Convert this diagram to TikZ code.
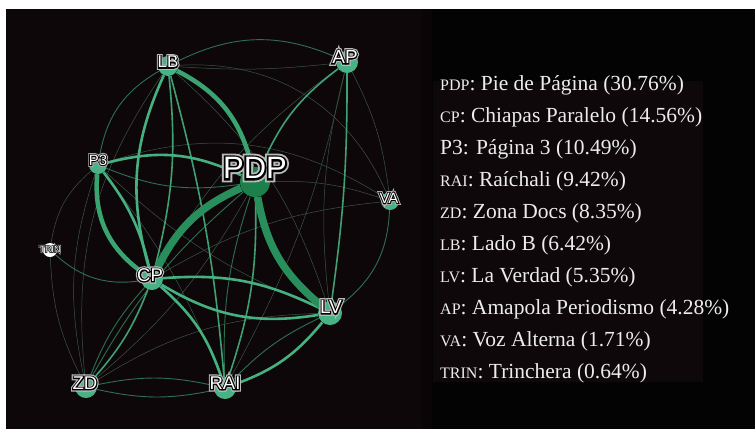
\documentclass[tikz,border=0pt]{standalone}
\usepackage{fontspec}
\newfontfamily\labelfont{Liberation Sans}
\newfontfamily\labeledge[FakeBold=12]{Liberation Sans}
\newfontfamily\labelglow[FakeBold=24]{Liberation Sans}
\newfontfamily\legendfont{Liberation Serif}
\pgfdeclarelayer{panels}
\pgfdeclarelayer{edges}
\pgfsetlayers{panels,edges,main}
\definecolor{panelbg}{RGB}{14,7,9}
\definecolor{seambg}{RGB}{9,5,6}
\definecolor{rightbg}{RGB}{3,3,3}
\definecolor{legendbg}{RGB}{15,8,11}
\definecolor{mint}{RGB}{72,178,134}
\definecolor{hubgreen}{RGB}{28,128,74}
\definecolor{legendtext}{RGB}{236,236,236}
\tikzstyle{netnode} = [circle, fill=mint, inner sep=0]
\tikzstyle{netlabel} = [inner sep=0]
\tikzstyle{legendline} = [anchor=base west, inner sep=0, text=legendtext, font=\legendfont\fontsize{21.5}{24}\selectfont]
\tikzstyle{thinE} = [draw={rgb,255:red,58;green,84;blue,72}, line width=0.5]
\tikzstyle{dimE} = [draw={rgb,255:red,44;green,112;blue,82}, line width=0.9]
\tikzstyle{midE} = [draw={rgb,255:red,62;green,160;blue,116}, line width=1.6]
\tikzstyle{strongE} = [draw={rgb,255:red,70;green,176;blue,128}, line width=2.6]
\tikzstyle{heavyE} = [draw={rgb,255:red,58;green,164;blue,112}, line width=4.5]
\tikzstyle{hugeE} = [draw={rgb,255:red,40;green,142;blue,92}, line width=7.5]
\newcommand\netlabel[4]{%
    \node[netlabel, text=gray!55, font=\labelglow\fontsize{#3}{#3}\selectfont] (#1_glow) at (#2) {#4};
    \node[netlabel, text=black, font=\labeledge\fontsize{#3}{#3}\selectfont] (#1_edge) at (#2) {#4};
    \node[netlabel, text=white, font=\labelfont\fontsize{#3}{#3}\selectfont] (#1) at (#2) {#4};}
\newcommand\abbr[1]{{\fontsize{16}{16}\selectfont #1}}

\begin{document}
\begin{tikzpicture}[x=1pt, y=-1pt]
    \useasboundingbox (0,0) rectangle (755,429);
    \begin{pgfonlayer}{panels}
    \fill[white] (0,0) rectangle (755,429);
    \fill[panelbg] (6,9) rectangle (432,429);
    \fill[seambg] (422,9) rectangle (432,429);
    \fill[rightbg] (432,9) rectangle (755,429);
    \fill[legendbg] (433,81) rectangle (703,382);
    \end{pgfonlayer}

    \node[netnode, minimum size=30, fill=hubgreen] (net_pdp) at (255,182) {};
    \node[netnode, minimum size=22] (net_cp) at (152,279) {};
    \node[netnode, minimum size=18] (net_p3) at (98,165) {};
    \node[netnode, minimum size=22] (net_rai) at (225,388) {};
    \node[netnode, minimum size=22] (net_zd) at (86,387) {};
    \node[netnode, minimum size=20] (net_lb) at (168,66) {};
    \node[netnode, minimum size=24] (net_lv) at (330,313) {};
    \node[netnode, minimum size=22] (net_ap) at (347,62) {};
    \node[netnode, minimum size=18] (net_va) at (390,201) {};
    \node[netnode, minimum size=14, fill=white] (net_trin) at (50,250) {};

    \begin{pgfonlayer}{edges}
    \draw[thinE] (net_lb) to[bend right=5] (net_ap);
    \draw[thinE] (net_trin) to[bend left=20] (net_p3);
    \draw[thinE] (net_pdp) to[bend left=10] (net_va);
    \draw[thinE] (net_p3) to[bend left=25] (net_va);
    \draw[thinE] (net_cp) to[bend left=12] (net_va);
    \draw[thinE] (net_ap) to[bend right=10] (net_lv);
    \draw[thinE] (net_lb) to[bend left=15] (net_lv);
    \draw[thinE] (net_p3) to[bend right=10] (net_lv);
    \draw[thinE] (net_p3) to[bend left=8] (net_rai);
    \draw[thinE] (net_p3) to[bend right=15] (net_zd);
    \draw[thinE] (net_zd) to[bend left=15] (net_lv);
    \draw[thinE] (net_ap) to[bend right=12] (net_cp);
    \draw[thinE] (net_ap) to[bend left=8] (net_rai);
    \draw[thinE] (net_lb) to[bend right=20] (net_zd);
    \draw[thinE] (net_zd) to[bend right=10] (net_pdp);
    \draw[thinE] (net_lb) to[bend left=35] (net_va);
    \draw[thinE] (net_ap) to[bend left=10] (net_va);
    \draw[thinE] (net_trin) to[bend right=12] (net_zd);
    \draw[dimE] (net_lb) to[bend right=25] (net_p3);
    \draw[dimE] (net_lb) to[bend left=25] (net_ap);
    \draw[dimE] (net_trin) to[bend right=25] (net_cp);
    \draw[dimE] (net_va) to[bend left=25] (net_lv);
    \draw[dimE] (net_p3) to[bend right=15] (net_pdp);
    \draw[dimE] (net_zd) to[bend left=12] (net_rai);
    \draw[dimE] (net_zd) to[bend right=12] (net_rai);
    \draw[dimE] (net_zd) to[bend left=10] (net_pdp);
    \draw[dimE] (net_pdp) to[bend right=10] (net_rai);
    \draw[dimE] (net_rai) to[bend left=10] (net_lv);
    \draw[dimE] (net_cp) to[bend right=10] (net_zd);
    \draw[midE] (net_ap) to[bend left=4] (net_lv);
    \draw[midE] (net_lb) to[bend left=5] (net_rai);
    \draw[midE] (net_lb) to[bend left=10] (net_cp);
    \draw[midE] (net_pdp) to[bend left=10] (net_rai);
    \draw[midE] (net_cp) to[bend left=10] (net_zd);
    \draw[midE] (net_ap) to[bend right=15] (net_pdp);
    \draw[strongE] (net_lb) to[bend right=20] (net_cp);
    \draw[strongE] (net_cp) to[bend left=15] (net_lv);
    \draw[strongE] (net_cp) to[bend right=20] (net_lv);
    \draw[strongE] (net_cp) to[bend left=15] (net_rai);
    \draw[strongE] (net_rai) to[bend right=15] (net_lv);
    \draw[strongE] (net_p3) to[bend left=20] (net_pdp);
    \draw[strongE] (net_p3) to[bend left=12] (net_cp);
    \draw[heavyE] (net_p3) to[bend right=30] (net_cp);
    \draw[heavyE] (net_lb) to[bend left=25] (net_pdp);
    \draw[hugeE] (net_pdp) to[bend right=20] (net_lv);
    \draw[hugeE] (net_cp) to[bend left=20] (net_pdp);
    \end{pgfonlayer}

    \netlabel{lbl_pdp}{255,168}{31}{PDP}
    \netlabel{lbl_cp}{150,275}{18.5}{CP}
    \netlabel{lbl_p3}{98,160}{15}{P3}
    \netlabel{lbl_rai}{225,383}{18.5}{RAI}
    \netlabel{lbl_zd}{85,383}{18.5}{ZD}
    \netlabel{lbl_lb}{168,62}{17}{LB}
    \netlabel{lbl_lv}{331,307}{19}{LV}
    \netlabel{lbl_ap}{345,57}{19}{AP}
    \netlabel{lbl_va}{389,198}{15}{VA}
    \netlabel{lbl_trin}{50,249}{9}{TRIN}

    \node[legendline] (leg_pdp) at (440,90) {\abbr{PDP}: Pie de Página (30.76\%)};
    \node[legendline] (leg_cp) at (440,122) {\abbr{CP}: Chiapas Paralelo (14.56\%)};
    \node[legendline] (leg_p3) at (440,154) {P3: Página 3 (10.49\%)};
    \node[legendline] (leg_rai) at (440,186) {\abbr{RAI}: Raíchali (9.42\%)};
    \node[legendline] (leg_zd) at (440,218) {\abbr{ZD}: Zona Docs (8.35\%)};
    \node[legendline] (leg_lb) at (440,250) {\abbr{LB}: Lado B (6.42\%)};
    \node[legendline] (leg_lv) at (440,282) {\abbr{LV}: La Verdad (5.35\%)};
    \node[legendline] (leg_ap) at (440,314) {\abbr{AP}: Amapola Periodismo (4.28\%)};
    \node[legendline] (leg_va) at (440,346) {\abbr{VA}: Voz Alterna (1.71\%)};
    \node[legendline] (leg_trin) at (440,378) {\abbr{TRIN}: Trinchera (0.64\%)};
\end{tikzpicture}
\end{document}
